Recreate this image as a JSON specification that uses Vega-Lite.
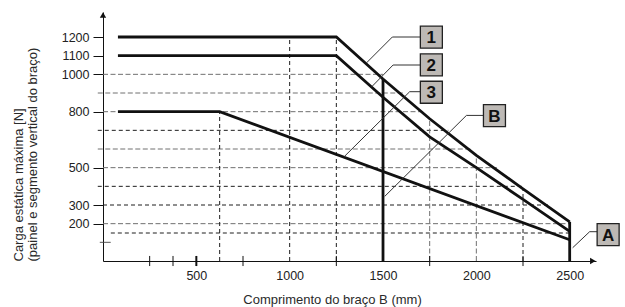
{
  "$schema": "https://vega.github.io/schema/vega-lite/v6.json",
  "width": 493,
  "height": 249,
  "autosize": {"type": "none"},
  "padding": {"left": 103, "top": 12, "right": 29, "bottom": 46},
  "background": "white",
  "config": {"view": {"stroke": null}, "font": "Liberation Sans"},
  "datasets": {
    "curves": [
      {"curve": "1", "x": 80, "y": 1200}, {"curve": "1", "x": 1250, "y": 1200}, {"curve": "1", "x": 1500, "y": 975}, {"curve": "1", "x": 1750, "y": 762}, {"curve": "1", "x": 2000, "y": 566}, {"curve": "1", "x": 2250, "y": 387}, {"curve": "1", "x": 2500, "y": 210},
      {"curve": "2", "x": 80, "y": 1100}, {"curve": "2", "x": 1250, "y": 1100}, {"curve": "2", "x": 1500, "y": 877}, {"curve": "2", "x": 1750, "y": 665}, {"curve": "2", "x": 2000, "y": 500}, {"curve": "2", "x": 2250, "y": 330}, {"curve": "2", "x": 2500, "y": 159},
      {"curve": "3", "x": 80, "y": 800}, {"curve": "3", "x": 625, "y": 800}, {"curve": "3", "x": 2500, "y": 114},
      {"curve": "B", "x": 1500, "y": 0}, {"curve": "B", "x": 1500, "y": 975},
      {"curve": "A", "x": 2500, "y": 0}, {"curve": "A", "x": 2500, "y": 210}
    ],
    "hgrid": [
      {"y": 1000, "x0": 0, "x1": 1500, "tone": "gray"},
      {"y": 900, "x0": -28, "x1": 1610, "tone": "gray"},
      {"y": 800, "x0": 0, "x1": 1725, "tone": "gray"},
      {"y": 700, "x0": -28, "x1": 1850, "tone": "black"},
      {"y": 600, "x0": -28, "x1": 1975, "tone": "gray"},
      {"y": 500, "x0": 0, "x1": 2110, "tone": "gray"},
      {"y": 400, "x0": -28, "x1": 2250, "tone": "black"},
      {"y": 300, "x0": 0, "x1": 2390, "tone": "black"},
      {"y": 200, "x0": 0, "x1": 2500, "tone": "gray"},
      {"y": 150, "x0": 42, "x1": 2500, "tone": "black"},
      {"y": 100, "x0": -17, "x1": 41, "tone": "solid"}
    ],
    "vgrid": [
      {"x": 625, "y0": 0, "y1": 800, "tone": "black"},
      {"x": 1000, "y0": 0, "y1": 1200, "tone": "black"},
      {"x": 1250, "y0": 0, "y1": 1200, "tone": "black"},
      {"x": 1750, "y0": 0, "y1": 762, "tone": "gray"},
      {"x": 2000, "y0": 0, "y1": 566, "tone": "gray"},
      {"x": 2250, "y0": 0, "y1": 387, "tone": "black"}
    ],
    "xticks": [
      {"x": 250, "y0": -27, "y1": 27, "kind": "minor"}, {"x": 375, "y0": -27, "y1": 27, "kind": "minor"}, {"x": 500, "y0": -27, "y1": 27, "kind": "major"},
      {"x": 750, "y0": -27, "y1": 27, "kind": "minor"}, {"x": 1250, "y0": -27, "y1": 27, "kind": "minor"}, {"x": 1750, "y0": -27, "y1": 27, "kind": "minor"}, {"x": 2250, "y0": -27, "y1": 27, "kind": "minor"}
    ],
    "leaders": [
      {"id": "1", "x": 1700, "y": 1200}, {"id": "1", "x": 1550, "y": 1200}, {"id": "1", "x": 1411, "y": 1061},
      {"id": "2", "x": 1700, "y": 1050}, {"id": "2", "x": 1554, "y": 1050}, {"id": "2", "x": 1438, "y": 932},
      {"id": "3", "x": 1700, "y": 907}, {"id": "3", "x": 1643, "y": 907}, {"id": "3", "x": 1293, "y": 560},
      {"id": "B", "x": 2038, "y": 780}, {"id": "B", "x": 1947, "y": 780}, {"id": "B", "x": 1509, "y": 346},
      {"id": "A", "x": 2649, "y": 157}, {"id": "A", "x": 2607, "y": 157}, {"id": "A", "x": 2516, "y": 71}
    ],
    "boxes": [
      {"id": "1", "x": 1759, "y": 1199},
      {"id": "2", "x": 1759, "y": 1051},
      {"id": "3", "x": 1759, "y": 904},
      {"id": "B", "x": 2097, "y": 779},
      {"id": "A", "x": 2706, "y": 141}
    ],
    "arrows": [
      {"x": 0, "y": 1318, "dir": "up"},
      {"x": 2624, "y": 0, "dir": "right"}
    ]
  },
  "layer": [
    {
      "data": {"name": "curves"},
      "mark": {"type": "line", "color": "#111", "strokeWidth": 2.8, "opacity": 0},
      "encoding": {
        "x": {
          "field": "x", "type": "quantitative",
          "scale": {"domain": [0, 2641], "nice": false, "zero": false},
          "axis": {
            "values": [500, 1000, 1500, 2000, 2500], "format": "d",
            "ticks": false, "grid": false,
            "domainColor": "#111", "domainWidth": 1,
            "labelFontSize": 12.5, "labelColor": "#222", "labelPadding": 8,
            "title": "Comprimento do braço B (mm)",
            "titleFontSize": 13, "titleFontWeight": "normal", "titleColor": "#2a2a2a",
            "titleX": 229, "titleY": 42, "titleAlign": "center", "titleBaseline": "alphabetic"
          }
        },
        "y": {
          "field": "y", "type": "quantitative",
          "scale": {"domain": [0, 1334], "nice": false, "zero": false},
          "axis": {
            "values": [200, 300, 500, 800, 1000, 1100, 1200], "format": "d",
            "grid": false, "tickSize": 10, "tickColor": "#111",
            "domainColor": "#111", "domainWidth": 1,
            "labelFontSize": 12.5, "labelColor": "#222", "labelPadding": 4,
            "title": ["Carga estática máxima [N]", "(painel e segmento vertical do braço)"],
            "titleFontSize": 13, "titleFontWeight": "normal", "titleColor": "#2a2a2a",
            "titleAngle": -90, "titleAlign": "left", "titleBaseline": "alphabetic",
            "titleX": -81, "titleY": 249, "titleLineHeight": 14
          }
        },
        "detail": {"field": "curve", "type": "nominal"}
      }
    },
    {
      "data": {"name": "hgrid"},
      "mark": {"type": "rule", "strokeWidth": 1},
      "encoding": {
        "x": {"field": "x0", "type": "quantitative", "scale": {"domain": [0, 2641], "nice": false, "zero": false}},
        "x2": {"field": "x1"},
        "y": {"field": "y", "type": "quantitative", "scale": {"domain": [0, 1334], "nice": false, "zero": false}},
        "color": {"field": "tone", "type": "nominal", "scale": {"domain": ["black", "gray", "solid"], "range": ["#1e1e1e", "#707070", "#444444"]}, "legend": null},
        "strokeDash": {"field": "tone", "type": "nominal", "scale": {"domain": ["black", "gray", "solid"], "range": [[4, 3], [5, 2.5], [1, 0]]}, "legend": null}
      }
    },
    {
      "data": {"name": "vgrid"},
      "mark": {"type": "rule", "strokeWidth": 1},
      "encoding": {
        "x": {"field": "x", "type": "quantitative", "scale": {"domain": [0, 2641], "nice": false, "zero": false}},
        "y": {"field": "y0", "type": "quantitative", "scale": {"domain": [0, 1334], "nice": false, "zero": false}},
        "y2": {"field": "y1"},
        "color": {"field": "tone", "type": "nominal", "scale": {"domain": ["black", "gray", "solid"], "range": ["#1e1e1e", "#707070", "#444444"]}, "legend": null},
        "strokeDash": {"field": "tone", "type": "nominal", "scale": {"domain": ["black", "gray", "solid"], "range": [[4, 3], [5, 2.5], [1, 0]]}, "legend": null}
      }
    },
    {
      "data": {"name": "xticks"},
      "mark": {"type": "rule", "color": "#111"},
      "encoding": {
        "x": {"field": "x", "type": "quantitative", "scale": {"domain": [0, 2641], "nice": false, "zero": false}},
        "y": {"field": "y0", "type": "quantitative", "scale": {"domain": [0, 1334], "nice": false, "zero": false}},
        "y2": {"field": "y1"},
        "strokeWidth": {"field": "kind", "type": "nominal", "scale": {"domain": ["minor", "major"], "range": [1, 2]}, "legend": null}
      }
    },
    {
      "data": {"name": "curves"},
      "mark": {"type": "line", "color": "#111", "strokeWidth": 2.8},
      "encoding": {
        "x": {"field": "x", "type": "quantitative", "scale": {"domain": [0, 2641], "nice": false, "zero": false}},
        "y": {"field": "y", "type": "quantitative", "scale": {"domain": [0, 1334], "nice": false, "zero": false}},
        "detail": {"field": "curve", "type": "nominal"}
      }
    },
    {
      "data": {"name": "leaders"},
      "mark": {"type": "line", "color": "#333", "strokeWidth": 1},
      "encoding": {
        "x": {"field": "x", "type": "quantitative", "scale": {"domain": [0, 2641], "nice": false, "zero": false}},
        "y": {"field": "y", "type": "quantitative", "scale": {"domain": [0, 1334], "nice": false, "zero": false}},
        "detail": {"field": "id", "type": "nominal"}
      }
    },
    {
      "data": {"name": "boxes"},
      "mark": {"type": "point", "shape": "square", "filled": true, "size": 484, "fill": "#bdb9b5", "stroke": "#222", "strokeWidth": 1.3, "opacity": 1},
      "encoding": {
        "x": {"field": "x", "type": "quantitative", "scale": {"domain": [0, 2641], "nice": false, "zero": false}},
        "y": {"field": "y", "type": "quantitative", "scale": {"domain": [0, 1334], "nice": false, "zero": false}}
      }
    },
    {
      "data": {"name": "boxes"},
      "mark": {"type": "text", "fontSize": 17, "fontWeight": "bold", "color": "#111", "baseline": "middle", "align": "center", "dy": 1},
      "encoding": {
        "x": {"field": "x", "type": "quantitative", "scale": {"domain": [0, 2641], "nice": false, "zero": false}},
        "y": {"field": "y", "type": "quantitative", "scale": {"domain": [0, 1334], "nice": false, "zero": false}},
        "text": {"field": "id"}
      }
    },
    {
      "data": {"name": "arrows"},
      "mark": {"type": "point", "filled": true, "size": 40, "color": "#111", "opacity": 1},
      "encoding": {
        "x": {"field": "x", "type": "quantitative", "scale": {"domain": [0, 2641], "nice": false, "zero": false}},
        "y": {"field": "y", "type": "quantitative", "scale": {"domain": [0, 1334], "nice": false, "zero": false}},
        "shape": {"field": "dir", "type": "nominal", "scale": {"domain": ["up", "right"], "range": ["triangle-up", "triangle-right"]}, "legend": null}
      }
    }
  ]
}
